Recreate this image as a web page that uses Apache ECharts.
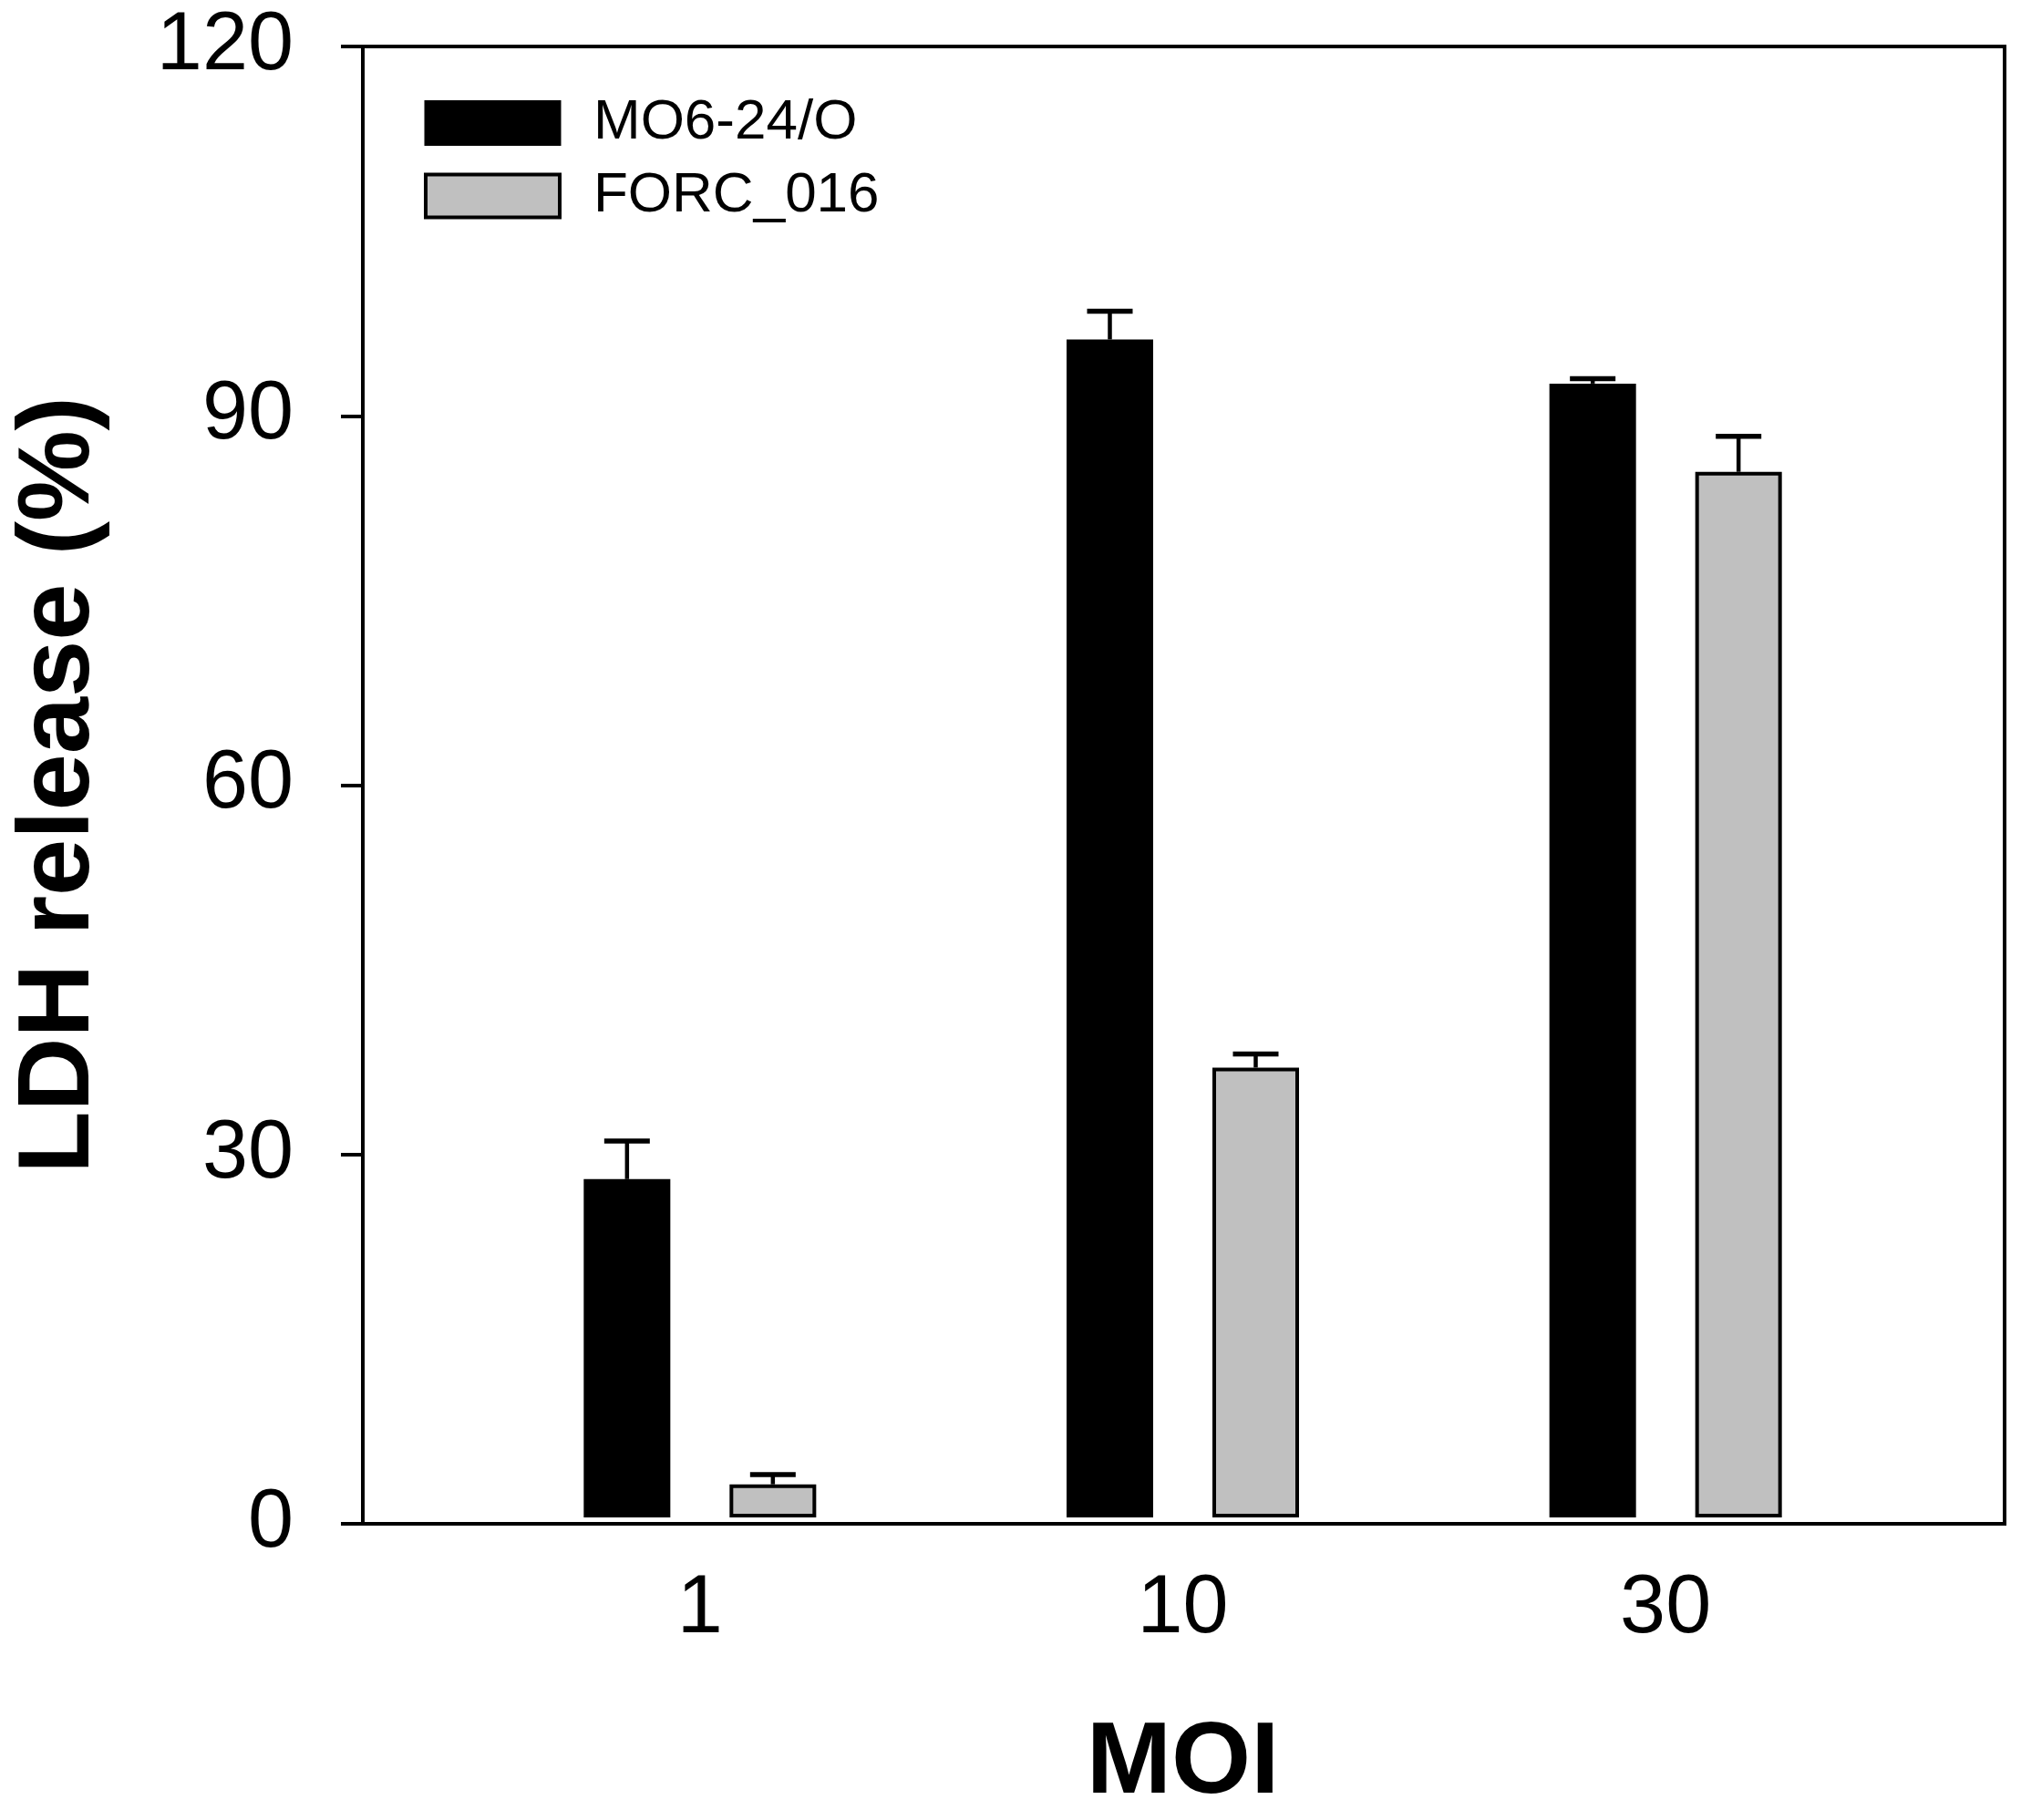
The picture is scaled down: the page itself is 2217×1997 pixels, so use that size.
<!DOCTYPE html>
<html>
<head>
<meta charset="utf-8">
<script src="https://cdn.jsdelivr.net/npm/echarts@6/dist/echarts.min.js"></script>
<style>
html, body { margin: 0; padding: 0; background: #fff; }
#chart { width: 2217px; height: 1997px; }
</style>
</head>
<body>
<div id="chart"></div>
<script>
// ---- data ----
const categories = ['1', '10', '30'];
const seriesNames = ['MO6-24/O', 'FORC_016'];
const mo6Values = [27.6, 96.1, 92.5];
const mo6Errors = [3.1, 2.3, 0.4];
const forcValues = [2.7, 36.7, 85.3];
const forcErrors = [0.8, 1.1, 2.9];
const yMin = 0, yMax = 120, yInterval = 30;
const xAxisTitle = 'MOI';
const yAxisTitle = 'LDH release (%)';

// ---- style ----
const FONT = "'Liberation Sans', Arial, sans-serif";
const BAR_W = 95;
const BAR_GAP = 65;            // px between bars in a group
const HALF_STEP = (BAR_W + BAR_GAP) / 2;
const CAP_W = 50;

function errData(vals, errs) {
  return vals.map((v, i) => [i, v, v + errs[i]]);
}

function makeErrSeries(vals, errs, offset) {
  return {
    type: 'custom',
    xAxisIndex: 1, yAxisIndex: 1,
    z: 10,
    silent: true,
    data: errData(vals, errs),
    renderItem: function (params, api) {
      const i = api.value(0);
      const pBase = api.coord([i, api.value(1)]);
      const pTop = api.coord([i, api.value(2)]);
      const x = pBase[0] + offset;
      return {
        type: 'group',
        children: [
          { type: 'line', shape: { x1: x, y1: pBase[1], x2: x, y2: pTop[1] },
            style: { stroke: '#000', lineWidth: 4.5 } },
          { type: 'line', shape: { x1: x - CAP_W / 2, y1: pTop[1], x2: x + CAP_W / 2, y2: pTop[1] },
            style: { stroke: '#000', lineWidth: 5.5 } }
        ]
      };
    }
  };
}

const chart = echarts.init(document.getElementById('chart'), null, { renderer: 'canvas' });
chart.setOption({
  backgroundColor: '#fff',
  animation: false,
  textStyle: { fontFamily: FONT, color: '#000' },
  grid: [
    { left: 398, right: 18, top: 51, bottom: 325, show: true, borderColor: '#000', borderWidth: 4, backgroundColor: 'transparent' },
    { left: 503, right: 125, top: 51, bottom: 325 }
  ],
  legend: {
    orient: 'vertical',
    left: 465, top: 104,
    padding: 0,
    icon: 'rect',
    itemWidth: 147, itemHeight: 47,
    itemGap: 18,
    data: [
      { name: seriesNames[0], itemStyle: { color: '#000', borderColor: '#000', borderWidth: 3 } },
      { name: seriesNames[1], itemStyle: { color: '#c0c0c0', borderColor: '#000', borderWidth: 4 } }
    ],
    textStyle: { fontSize: 62, fontFamily: FONT, color: '#000', lineHeight: 47, padding: [0, 0, 0, 32] }
  },
  xAxis: [
    { gridIndex: 0, type: 'value', min: 0, max: 1, show: false },
    {
      gridIndex: 1, type: 'category', data: categories, boundaryGap: true,
      axisLine: { show: false }, axisTick: { show: false },
      axisLabel: { fontSize: 90, color: '#000', margin: 56, fontFamily: FONT },
      name: xAxisTitle, nameLocation: 'middle', nameGap: 215,
      nameTextStyle: { fontSize: 112, fontWeight: 'bold', color: '#000', fontFamily: FONT }
    }
  ],
  yAxis: [
    {
      gridIndex: 0, type: 'value', min: yMin, max: yMax, interval: yInterval,
      axisLine: { show: true, lineStyle: { color: '#000', width: 4 } },
      axisTick: { show: true, inside: false, length: 24, lineStyle: { color: '#000', width: 4 } },
      splitLine: { show: false },
      axisLabel: { fontSize: 90, color: '#000', margin: 76, fontFamily: FONT },
      name: yAxisTitle, nameLocation: 'middle', nameGap: 276,
      nameTextStyle: { fontSize: 112, fontWeight: 'bold', color: '#000', fontFamily: FONT }
    },
    { gridIndex: 1, type: 'value', min: yMin, max: yMax, show: false }
  ],
  series: [
    {
      name: seriesNames[0], type: 'bar', xAxisIndex: 1, yAxisIndex: 1,
      data: mo6Values, barWidth: BAR_W, barGap: (BAR_GAP / BAR_W * 100) + '%',
      itemStyle: { color: '#000', borderColor: '#000', borderWidth: 3 }
    },
    {
      name: seriesNames[1], type: 'bar', xAxisIndex: 1, yAxisIndex: 1,
      data: forcValues, barWidth: BAR_W, barGap: (BAR_GAP / BAR_W * 100) + '%',
      itemStyle: { color: '#c0c0c0', borderColor: '#000', borderWidth: 4 }
    },
    makeErrSeries(mo6Values, mo6Errors, -HALF_STEP),
    makeErrSeries(forcValues, forcErrors, HALF_STEP)
  ]
});
</script>
</body>
</html>
